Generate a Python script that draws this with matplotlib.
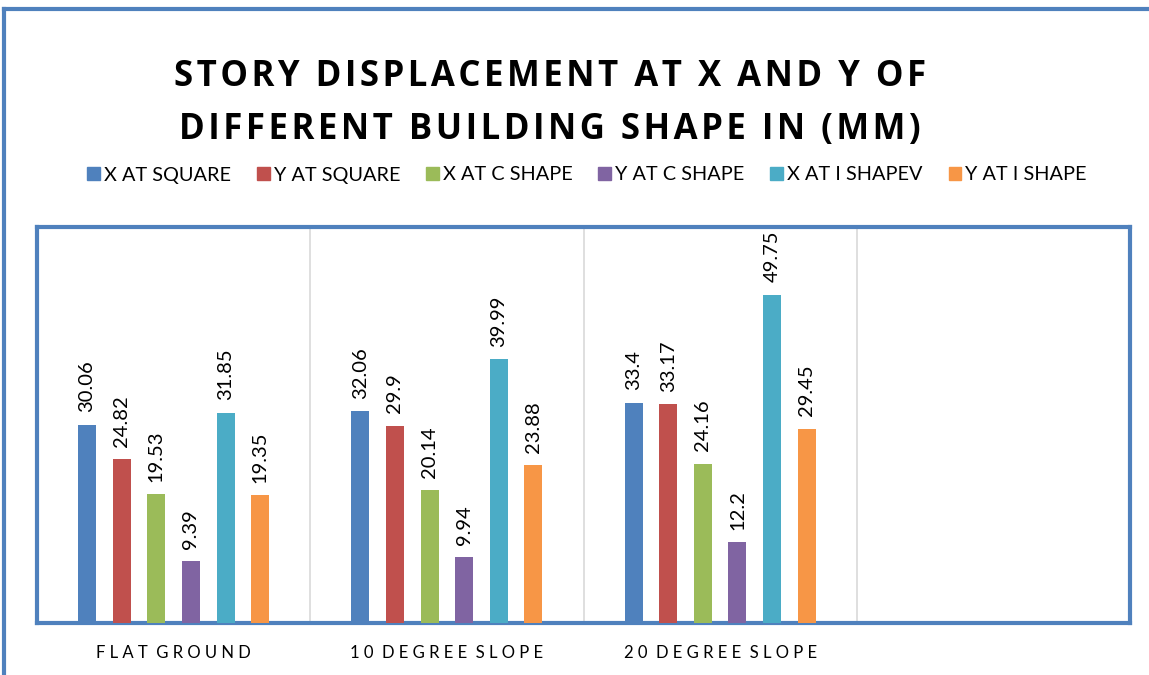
import numpy as np
import matplotlib.pyplot as plt
from matplotlib.lines import Line2D
from matplotlib.patches import Patch

categories = ['FLAT GROUND', '10 DEGREE SLOPE', '20 DEGREE SLOPE', '']
series = ['X AT SQUARE', 'Y AT SQUARE', 'X AT C SHAPE',
          'Y AT C SHAPE', 'X AT I SHAPEV', 'Y AT I SHAPE']
x_square = [30.06, 32.06, 33.4, np.nan]
y_square = [24.82, 29.9, 33.17, np.nan]
x_cshape = [19.53, 20.14, 24.16, np.nan]
y_cshape = [9.39, 9.94, 12.2, np.nan]
x_ishape = [31.85, 39.99, 49.75, np.nan]
y_ishape = [19.35, 23.88, 29.45, np.nan]
colors = ['#4F81BD', '#C0504D', '#9BBB59', '#8064A2', '#4BACC6', '#F79646']
title_lines = ['STORY DISPLACEMENT AT X AND Y OF',
               'DIFFERENT BUILDING SHAPE IN (MM)']

values = [x_square, y_square, x_cshape, y_cshape, x_ishape, y_ishape]

plt.rcParams['font.family'] = ['Lato', 'DejaVu Sans']


def track(s, sep='\u200a'):
    # fake letter spacing with hair spaces
    return sep.join(s)


fig = plt.figure(figsize=(11.49, 6.75), dpi=100)
ax = fig.add_axes([37 / 1149, 52 / 675, 1093 / 1149, 396 / 675])

x = np.arange(len(categories))
step = 0.1267
width = 0.066
for i, (vals, c) in enumerate(zip(values, colors)):
    pos = x + (i - 2.5) * step
    bars = ax.bar(pos, vals, width, color=c, label=series[i], zorder=3)
    for b, v in zip(bars, vals):
        if np.isnan(v):
            continue
        ax.annotate(f'{v:g}', (b.get_x() + b.get_width() / 2, v),
                    xytext=(0, 9), textcoords='offset points',
                    rotation=90, ha='center', va='bottom', fontsize=14.5)

ax.set_xlim(-0.5, 3.5)
ax.set_ylim(0, 60)
ax.set_yticks([])
ax.set_xticks(x)
ax.set_xticklabels(['  '.join(' '.join(w) for w in c.split()) for c in categories],
                   fontsize=12)
ax.tick_params(axis='x', length=0, pad=16)
for xb in [0.5, 1.5, 2.5]:
    ax.axvline(xb, color='#D9D9D9', lw=1.2, zorder=1)
for s in ax.spines.values():
    s.set_color('#4F81BD')
    s.set_linewidth(3)

for line, yy in zip(title_lines, [77, 130]):
    fig.text(550 / 1149, 1 - yy / 675, track(line), ha='center', va='center',
             fontsize=25, fontweight='bold',
             family=['Open Sans', 'DejaVu Sans'])

handles = [Patch(color=c) for c in colors]
fig.legend(handles, series, loc='center', ncol=6,
           bbox_to_anchor=(587 / 1149, 1 - 175 / 675), frameon=False,
           fontsize=14.3, handlelength=0.65, handleheight=0.65,
           handletextpad=0.2, columnspacing=1.3)

# outer frame
fig.add_artist(Line2D([4 / 1149, 1], [1 - 9 / 675, 1 - 9 / 675],
                      color='#4F81BD', lw=3, transform=fig.transFigure))
fig.add_artist(Line2D([4 / 1149, 4 / 1149], [0, 1 - 9 / 675],
                      color='#4F81BD', lw=3, transform=fig.transFigure))

fig.savefig('out.png', dpi=100)
